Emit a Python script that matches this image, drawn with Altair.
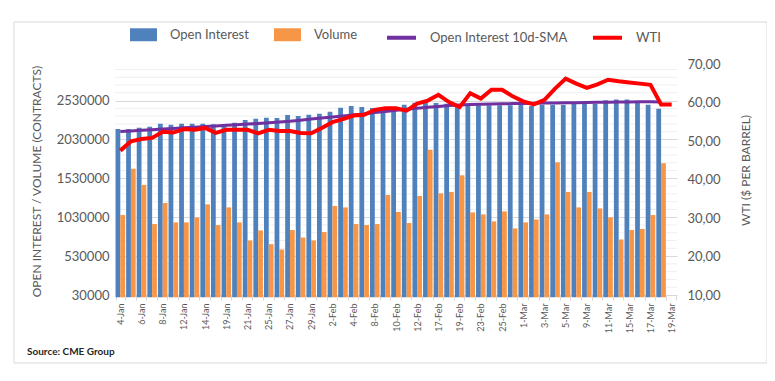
import json
import altair as alt
import pandas as pd

dates = ["4-Jan", "5-Jan", "6-Jan", "7-Jan", "8-Jan", "11-Jan", "12-Jan", "13-Jan", "14-Jan", "15-Jan",
         "19-Jan", "20-Jan", "21-Jan", "22-Jan", "25-Jan", "26-Jan", "27-Jan", "28-Jan", "29-Jan",
         "1-Feb", "2-Feb", "3-Feb", "4-Feb", "5-Feb", "8-Feb", "9-Feb", "10-Feb", "11-Feb", "12-Feb",
         "16-Feb", "17-Feb", "18-Feb", "19-Feb", "22-Feb", "23-Feb", "24-Feb", "25-Feb", "26-Feb",
         "1-Mar", "2-Mar", "3-Mar", "4-Mar", "5-Mar", "8-Mar", "9-Mar", "10-Mar", "11-Mar", "12-Mar",
         "15-Mar", "16-Mar", "17-Mar", "18-Mar", "19-Mar"]

shown_labels = ["4-Jan", "6-Jan", "8-Jan", "12-Jan", "14-Jan", "19-Jan", "21-Jan", "25-Jan", "27-Jan",
                "29-Jan", "2-Feb", "4-Feb", "8-Feb", "10-Feb", "12-Feb", "17-Feb", "19-Feb", "23-Feb",
                "25-Feb", "1-Mar", "3-Mar", "5-Mar", "9-Mar", "11-Mar", "15-Mar", "17-Mar", "19-Mar"]

open_interest = [2163000, 2165000, 2181000, 2194000, 2233000, 2220000, 2233000, 2233000, 2233000, 2225000,
                 2200000, 2246000, 2279000, 2297000, 2310000, 2305000, 2344000, 2331000, 2348000,
                 2361000, 2387000, 2439000, 2460000, 2447000, 2434000, 2447000, 2447000, 2477000, 2503000,
                 2511000, 2498000, 2490000, 2469000, 2469000, 2469000, 2469000, 2469000, 2469000,
                 2477000, 2460000, 2477000, 2477000, 2477000, 2490000, 2490000, 2490000, 2533000, 2542000,
                 2542000, 2505000, 2477000, 2426000, None]

volume = [1058000, 1652000, 1445000, 942000, 1213000, 963000, 963000, 1027000, 1195000, 929000,
          1156000, 963000, 731000, 860000, 684000, 615000, 865000, 769000, 731000,
          839000, 1174000, 1156000, 942000, 929000, 942000, 1316000, 1097000, 955000, 1303000,
          1897000, 1337000, 1355000, 1569000, 1092000, 1066000, 976000, 1105000, 886000,
          963000, 1001000, 1066000, 1737000, 1355000, 1156000, 1355000, 1143000, 1027000, 744000,
          865000, 877000, 1058000, 1724000, None]

oi_sma = [2133000, 2140000, 2147000, 2155000, 2163000, 2171000, 2180000, 2188000, 2196000, 2204000,
          2211000, 2219000, 2227000, 2235000, 2244000, 2253000, 2265000, 2278000, 2292000,
          2305000, 2318000, 2332000, 2345000, 2358000, 2375000, 2390000, 2404000, 2418000, 2431000,
          2443000, 2455000, 2465000, 2472000, 2478000, 2482000, 2486000, 2489000, 2491000,
          2493000, 2495000, 2497000, 2499000, 2501000, 2503000, 2505000, 2507000, 2509000, 2511000,
          2513000, 2514000, 2514000, 2513000, None]

wti = [47.5, 49.9, 50.5, 50.8, 52.4, 52.2, 53.1, 52.9, 53.4, 52.1,
       52.9, 52.9, 52.9, 52.0, 52.9, 52.6, 52.6, 52.1, 52.0,
       53.4, 54.9, 55.7, 56.6, 56.8, 58.1, 58.5, 58.5, 57.9, 59.7,
       60.5, 62.0, 60.1, 58.8, 62.4, 61.0, 63.3, 63.3, 61.6,
       60.3, 59.5, 60.7, 63.6, 66.2, 64.9, 63.8, 64.7, 65.9, 65.5,
       65.2, 64.9, 64.6, 59.5, 59.5]

left_ticks = [30000, 530000, 1030000, 1530000, 2030000, 2530000]
right_ticks = [10, 20, 30, 40, 50, 60, 70]

df = pd.DataFrame({"date": dates, "Open Interest": open_interest, "Volume": volume,
                   "sma": oi_sma, "wti": wti})
minor_grid = pd.DataFrame({"v": [30000 + 100000 * k for k in range(1, 30) if k % 5 != 0]})

FONT = "Lato"
GRAY = "#595959"
BLUE = "#4F81BD"
ORANGE = "#F79646"
PURPLE = "#7030A0"
RED = "#FF0000"

x_enc = alt.X("date:N", sort=dates,
              scale=alt.Scale(paddingInner=0.1, paddingOuter=0.05),
              axis=alt.Axis(title=None, labelAngle=270, labelFontSize=9, labelColor=GRAY,
                            labelPadding=3, tickBand="extent", tickSize=5, tickColor="#d9d9d9",
                            domainColor="#d9d9d9", grid=False, labelOverlap=False,
                            labelExpr="indexof(" + json.dumps(shown_labels) + ", datum.value) >= 0 ? datum.value : ''"))

y_left_scale = alt.Scale(domain=[30000, 3000000], zero=False, nice=False)
left_axis = alt.Axis(title="OPEN INTEREST / VOLUME (CONTRACTS)", values=left_ticks, format="d",
                     grid=True, gridColor="#d9d9d9", domain=False, ticks=False, labelPadding=6,
                     labelFontSize=13, labelColor=GRAY, titleFontSize=12, titleColor=GRAY,
                     titleFontWeight="normal", titleX=-79, titleY=117, titleAngle=270,
                     titleAlign="center", titleBaseline="middle")

right_axis = alt.Axis(title="WTI ($ PER BARREL)", orient="right", values=right_ticks,
                      labelExpr="replace(format(datum.value, '.2f'), '.', ',')",
                      grid=False, domain=False, ticks=False, labelPadding=10,
                      labelFontSize=13, labelColor=GRAY, titleFontSize=12, titleColor=GRAY,
                      titleFontWeight="normal", titleX=68, titleY=106, titleAngle=270,
                      titleAlign="center", titleBaseline="middle")

grid_rules = alt.Chart(minor_grid).mark_rule(color="#efefef", strokeWidth=1).encode(
    y=alt.Y("v:Q", scale=y_left_scale, axis=left_axis))

bars = alt.Chart(df).transform_fold(["Open Interest", "Volume"], as_=["series", "value"]).mark_bar().encode(
    x=x_enc,
    xOffset=alt.XOffset("series:N", sort=["Open Interest", "Volume"]),
    y=alt.Y("value:Q", scale=y_left_scale, axis=left_axis),
    fill=alt.Fill("series:N",
                  scale=alt.Scale(domain=["Open Interest", "Volume"], range=[BLUE, ORANGE]),
                  legend=alt.Legend(title=None, orient="none", legendX=15, legendY=-43,
                                    direction="horizontal", symbolType="M-1,-0.48H1V0.48H-1Z",
                                    symbolSize=729, symbolStrokeWidth=0, labelFontSize=13,
                                    labelColor=GRAY, labelOffset=13, columnPadding=25)))

stroke_scale = alt.Scale(domain=["Open Interest 10d-SMA", "WTI"], range=[PURPLE, RED])
stroke_legend = alt.Legend(title=None, orient="none", legendX=270, legendY=-43,
                           direction="horizontal", symbolType="stroke", symbolSize=841,
                           symbolStrokeWidth=4, labelFontSize=13, labelColor=GRAY,
                           labelOffset=12, columnPadding=17)

sma_line = alt.Chart(df).transform_calculate(line="'Open Interest 10d-SMA'").mark_line(strokeWidth=3).encode(
    x=x_enc,
    y=alt.Y("sma:Q", scale=y_left_scale, axis=left_axis),
    stroke=alt.Stroke("line:N", scale=stroke_scale, legend=stroke_legend))

wti_line = alt.Chart(df).transform_calculate(line="'WTI'").mark_line(strokeWidth=4).encode(
    x=x_enc,
    y=alt.Y("wti:Q", scale=alt.Scale(domain=[10, 70], zero=False, nice=False), axis=right_axis),
    stroke=alt.Stroke("line:N", scale=stroke_scale, legend=stroke_legend))

source = alt.Chart(pd.DataFrame({"t": ["Source: CME Group"]})).mark_text(
    align="left", baseline="middle", fontSize=10, fontWeight="bold", font=FONT, color="#262626"
).encode(text="t:N", x=alt.value(-88), y=alt.value(288))

border = alt.Chart(pd.DataFrame({"t": [1]})).mark_rect(
    fillOpacity=0, stroke="#d9d9d9", strokeWidth=1
).encode(x=alt.value(-101), x2=alt.value(652), y=alt.value(-42), y2=alt.value(299))

left = alt.layer(grid_rules, bars, sma_line)
chart = alt.layer(left, wti_line, source, border).resolve_scale(y="independent").properties(
    width=562, height=231,
    autosize=alt.AutoSizeParams(type="none"),
    padding={"left": 107, "top": 56, "right": 90, "bottom": 73},
    background="white",
).configure(font=FONT).configure_view(stroke=None).configure_axis(
    labelFont=FONT, titleFont=FONT).configure_legend(labelFont=FONT)

chart.save("out.html", embed_options={"renderer": "svg", "actions": False})
